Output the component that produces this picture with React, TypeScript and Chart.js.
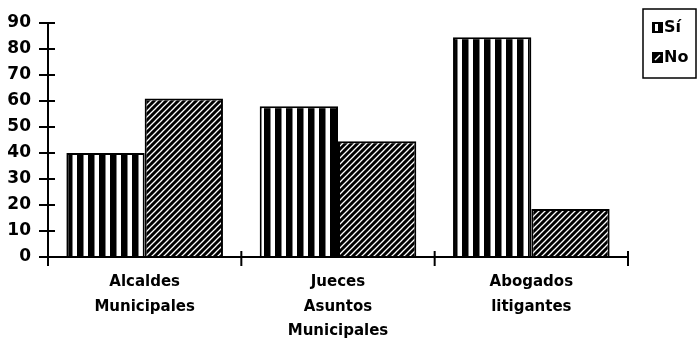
import React, { useEffect, useRef } from "react";
import { Chart, registerables } from "chart.js";

Chart.register(...registerables);

const categories: string[][] = [
  ["Alcaldes", "Municipales"],
  ["Jueces", "Asuntos", "Municipales"],
  ["Abogados", "litigantes"],
];
const seriesLabels: string[] = ["Sí", "No"];
const siValues: number[] = [40, 58, 84.5];
const noValues: number[] = [61, 44.5, 18.5];
const yMin = 0;
const yMax = 90;
const yStep = 10;

const FONT = "DejaVu Sans";

function stripePattern(ctx: CanvasRenderingContext2D): CanvasPattern {
  const c = document.createElement("canvas");
  c.width = 11;
  c.height = 11;
  const g = c.getContext("2d")!;
  g.fillStyle = "#fff";
  g.fillRect(0, 0, 11, 11);
  g.fillStyle = "#000";
  g.fillRect(0, 0, 6.5, 11);
  return ctx.createPattern(c, "repeat")!;
}

function hatchPattern(ctx: CanvasRenderingContext2D): CanvasPattern {
  const s = 6;
  const c = document.createElement("canvas");
  c.width = s;
  c.height = s;
  const g = c.getContext("2d")!;
  g.fillStyle = "#000";
  g.fillRect(0, 0, s, s);
  g.strokeStyle = "#fff";
  g.lineWidth = 1.3;
  g.beginPath();
  g.moveTo(-1, s + 1);
  g.lineTo(s + 1, -1);
  g.moveTo(-1, 1);
  g.lineTo(1, -1);
  g.moveTo(s - 1, s + 1);
  g.lineTo(s + 1, s - 1);
  g.stroke();
  return ctx.createPattern(c, "repeat")!;
}

const axesPlugin = {
  id: "crossAxes",
  afterDatasetsDraw(chart: any) {
    const ctx: CanvasRenderingContext2D = chart.ctx;
    const xs = chart.scales.x;
    const ys = chart.scales.y;
    const x0 = xs.getPixelForValue(-0.5);
    const x1 = xs.getPixelForValue(categories.length - 0.5);
    const yBase = ys.getPixelForValue(yMin);
    const yTop = ys.getPixelForValue(yMax);
    ctx.save();
    ctx.strokeStyle = "#000";
    ctx.lineWidth = 2;
    ctx.lineCap = "butt";
    ctx.beginPath();
    ctx.moveTo(x0, yTop);
    ctx.lineTo(x0, yBase);
    ctx.moveTo(x0 - 1, yBase);
    ctx.lineTo(x1, yBase);
    ys.ticks.forEach((_t: any, i: number) => {
      const py = ys.getPixelForTick(i);
      ctx.moveTo(x0 - 9, py);
      ctx.lineTo(x0 + 7, py);
    });
    for (let i = 0; i <= categories.length; i++) {
      const px = xs.getPixelForValue(i - 0.5);
      ctx.moveTo(px, yBase - 6);
      ctx.lineTo(px, yBase + 9);
    }
    ctx.stroke();
    ctx.restore();
  },
};

const legendPlugin = {
  id: "boxLegend",
  afterDraw(chart: any) {
    const ctx: CanvasRenderingContext2D = chart.ctx;
    const { right } = chart.chartArea;
    const lx = right + 15;
    const ly = 9;
    ctx.save();
    ctx.strokeStyle = "#000";
    ctx.lineWidth = 1.5;
    ctx.strokeRect(lx, ly, 53, 69);
    chart.data.datasets.forEach((ds: any, i: number) => {
      const ix = lx + 9;
      const iy = ly + 13 + i * 30;
      ctx.fillStyle = "#000";
      ctx.fillRect(ix, iy, 11, 11);
      ctx.fillStyle = "#fff";
      if (i === 0) {
        ctx.fillRect(ix + 3, iy + 2, 3, 7);
      } else {
        ctx.strokeStyle = "#fff";
        ctx.lineWidth = 1.5;
        ctx.beginPath();
        ctx.moveTo(ix + 3, iy + 8);
        ctx.lineTo(ix + 8, iy + 3);
        ctx.stroke();
      }
      ctx.fillStyle = "#000";
      ctx.font = `bold 16px "${FONT}"`;
      ctx.textBaseline = "middle";
      ctx.textAlign = "left";
      ctx.fillText(ds.label, ix + 12, iy + 6);
    });
    ctx.restore();
  },
};

export default function App() {
  const ref = useRef<HTMLCanvasElement | null>(null);

  useEffect(() => {
    const canvas = ref.current!;
    const ctx = canvas.getContext("2d")!;
    const chart = new Chart(canvas, {
      type: "bar",
      data: {
        labels: categories as any,
        datasets: [
          {
            label: seriesLabels[0],
            data: siValues,
            backgroundColor: stripePattern(ctx) as any,
            borderColor: "#000",
            borderWidth: 2,
            barPercentage: 1,
            categoryPercentage: 0.81,
          },
          {
            label: seriesLabels[1],
            data: noValues,
            backgroundColor: hatchPattern(ctx) as any,
            borderColor: "#000",
            borderWidth: 2,
            barPercentage: 1,
            categoryPercentage: 0.81,
          },
        ],
      },
      options: {
        responsive: false,
        animation: false,
        devicePixelRatio: 1,
        layout: { padding: { top: 23, right: 71, left: 0, bottom: 0 } },
        plugins: {
          legend: { display: false },
          tooltip: { enabled: false },
        },
        scales: {
          x: {
            grid: { display: false, drawTicks: false },
            border: { display: false },
            ticks: {
              color: "#000",
              font: { family: FONT, size: 15, weight: "bold", lineHeight: 1.63 },
              padding: 13,
              maxRotation: 0,
              autoSkip: false,
            },
            afterFit: (s: any) => {
              s.height = 92;
              s.paddingLeft = 0;
              s.paddingRight = 0;
            },
          },
          y: {
            min: yMin,
            max: yMax,
            grid: { display: false, drawTicks: false },
            border: { display: false },
            ticks: {
              stepSize: yStep,
              color: "#000",
              font: { family: FONT, size: 17, weight: "bold" },
              padding: 17,
            },
            afterFit: (s: any) => {
              s.width = 48;
              s.paddingTop = 0;
              s.paddingBottom = 0;
            },
          },
        },
      },
      plugins: [axesPlugin, legendPlugin],
    });
    return () => chart.destroy();
  }, []);

  return (
    <div style={{ position: "absolute", left: 0, top: 0, width: 699, height: 349, background: "#fff" }}>
      <canvas ref={ref} width={699} height={349} style={{ display: "block" }} />
    </div>
  );
}
